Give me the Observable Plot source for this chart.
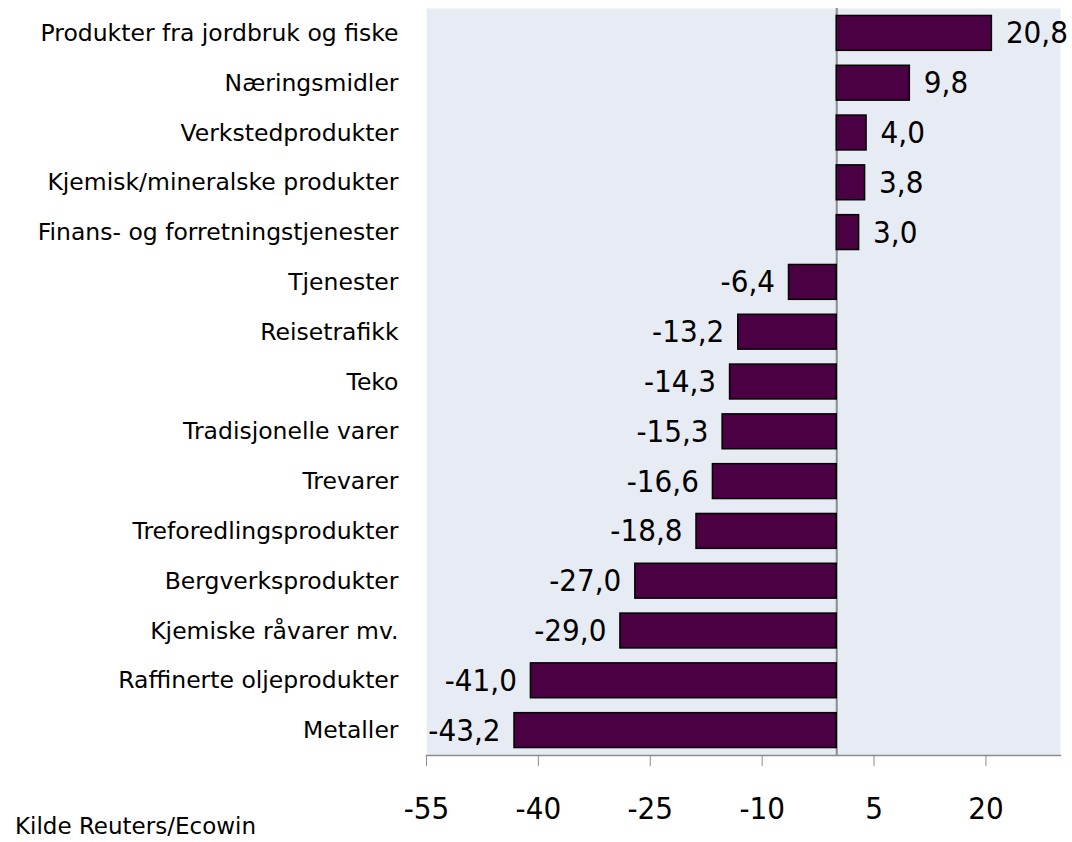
<!DOCTYPE html>
<html>
<head>
<meta charset="utf-8">
<script src="https://cdn.jsdelivr.net/npm/d3@7"></script>
<script src="https://cdn.jsdelivr.net/npm/@observablehq/plot@0.6"></script>
<style>
  html, body { margin: 0; padding: 0; background: #ffffff; }
  #wrap { position: relative; width: 1072px; height: 842px; overflow: hidden; }
  #caption { position: absolute; left: 15px; top: 815px; font-family: "DejaVu Sans", sans-serif; font-size: 23px; line-height: 23px; color: #000; }
</style>
</head>
<body>
<div id="wrap"></div>
<script>
const categories = [
  "Produkter fra jordbruk og fiske",
  "Næringsmidler",
  "Verkstedprodukter",
  "Kjemisk/mineralske produkter",
  "Finans- og forretningstjenester",
  "Tjenester",
  "Reisetrafikk",
  "Teko",
  "Tradisjonelle varer",
  "Trevarer",
  "Treforedlingsprodukter",
  "Bergverksprodukter",
  "Kjemiske råvarer mv.",
  "Raffinerte oljeprodukter",
  "Metaller"
];
const values = [20.8, 9.8, 4.0, 3.8, 3.0, -6.4, -13.2, -14.3, -15.3, -16.6, -18.8, -27.0, -29.0, -41.0, -43.2];
const xTicks = [-55, -40, -25, -10, 5, 20];
const xDomain = [-55, 30];
const sourceText = "Kilde Reuters/Ecowin";

const data = categories.map((c, i) => ({category: c, value: values[i]}));
const fmt = v => v.toFixed(1).replace(".", ",");
const numFont = "'DejaVu Sans Condensed', 'DejaVu Sans', sans-serif";

const chart = Plot.plot({
  width: 1072,
  height: 842,
  marginLeft: 426,
  marginRight: 12,
  marginTop: 8,
  marginBottom: 87,
  style: {fontFamily: "'DejaVu Sans', sans-serif", color: "#000", background: "#fff"},
  x: {domain: xDomain, label: null},
  y: {domain: categories, paddingInner: 0.3, paddingOuter: 0.15, round: false, label: null},
  marks: [
    Plot.frame({fill: "#e7ebf3", stroke: "none"}),
    Plot.frame({anchor: "bottom", stroke: "#8c8c8c", strokeWidth: 1.5}),
    Plot.ruleX([0], {stroke: "#8c8c8c", strokeWidth: 2}),
    Plot.barX(data, {x: "value", y: "category", fill: "#4b0043", stroke: "#000", strokeWidth: 1.5}),
    Plot.text(data.filter(d => d.value >= 0), {x: "value", y: "category", text: d => fmt(d.value), textAnchor: "start", dx: 14, fontSize: 31, fontFamily: numFont, fill: "#000"}),
    Plot.text(data.filter(d => d.value < 0), {x: "value", y: "category", text: d => fmt(d.value), textAnchor: "end", dx: -14, fontSize: 31, fontFamily: numFont, fill: "#000"}),
    Plot.axisX({ticks: xTicks, tickFormat: d => String(d), tickSize: 11, tickPadding: 30, fontSize: 31, fontFamily: numFont, stroke: "#8c8c8c", fill: "#000"}),
    Plot.axisY({tickSize: 0, tickPadding: 28, fontSize: 23.5, fill: "#000"})
  ]
});
const wrap = document.getElementById("wrap");
wrap.appendChild(chart);
const cap = document.createElement("div");
cap.id = "caption";
cap.textContent = sourceText;
wrap.appendChild(cap);
</script>
</body>
</html>
